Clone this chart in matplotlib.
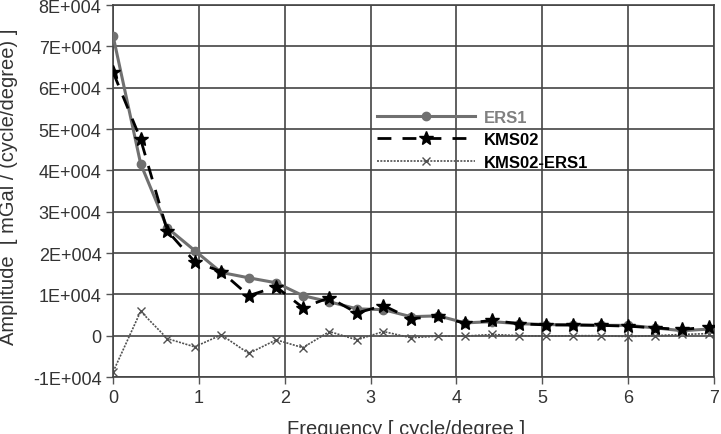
import matplotlib as mpl
import matplotlib.pyplot as plt
from matplotlib.ticker import FuncFormatter

# frequency [cycle/degree]
freq = [0.0, 0.32, 0.63, 0.95, 1.26, 1.58, 1.90, 2.21, 2.52, 2.84, 3.15, 3.47,
        3.79, 4.10, 4.42, 4.73, 5.05, 5.36, 5.68, 6.00, 6.31, 6.63, 6.94]

ers1 = [72400, 41600, 26100, 20600, 15300, 14000, 12800, 9700, 8200, 6500, 6300, 4600,
        4800, 3100, 3400, 2900, 2700, 2600, 2500, 2500, 1900, 1200, 1600]
kms02 = [63700, 47500, 25400, 17900, 15500, 9700, 11800, 6800, 9200, 5500, 7300, 4100,
         4700, 3000, 3700, 2900, 2600, 2600, 2500, 2300, 1900, 1500, 2100]
diff = [-8700, 5900, -700, -2700, 200, -4300, -1000, -2900, 1000, -1000, 1000, -500,
        -100, -100, 300, 0, -100, 0, 0, -200, 0, 300, 500]

mpl.rc('font', family=['Liberation Sans', 'DejaVu Sans'])

fig = plt.figure(figsize=(7.21, 4.35), dpi=100)
ax = fig.add_axes([0.157, 0.131, 0.833, 0.855])

ax.plot(freq, ers1, color='#707070', lw=2.2, marker='o', ms=6, label='ERS1', zorder=3)
ax.plot(freq, kms02, color='black', lw=2, ls=(0, (5, 4)), marker='*', ms=10, label='KMS02', zorder=4)
ax.plot(freq, diff, color='#505050', lw=1.2, ls=(0, (1.2, 0.8)), marker='x', ms=6, mew=1,
        label='KMS02-ERS1', zorder=2)

ax.set_xlim(0, 7)
ax.set_ylim(-10000, 80000)
ax.set_xticks(range(8))
ax.set_yticks(range(-10000, 80001, 10000))


def sci(v, pos):
    if v == 0:
        return '0'
    return '%dE+004' % round(v / 10000)


ax.yaxis.set_major_formatter(FuncFormatter(sci))
ax.grid(True, color='#444444', lw=1.2)
for s in ax.spines.values():
    s.set_color('#444444')
    s.set_linewidth(1.2)
ax.tick_params(colors='#555555', labelcolor='#333333', labelsize=13, length=5, width=1)

ax.set_xlabel('Frequency [ cycle/degree ]', fontsize=14.5, color='#333333')
ax.set_ylabel('Amplitude  [ mGal / (cycle/degree) ]', fontsize=14.5, color='#333333')
ax.xaxis.set_label_coords(0.4875, -0.113)
ax.yaxis.set_label_coords(-0.158, 0.515)

leg = ax.legend(loc='upper left', bbox_to_anchor=(0.439, 0.719), frameon=False,
                borderpad=0, borderaxespad=0,
                handlelength=5.9, handletextpad=0.55, labelspacing=0.45,
                prop={'weight': 'bold', 'size': 12})
leg.get_texts()[0].set_color('#808080')

fig.savefig('out.png', dpi=100)
